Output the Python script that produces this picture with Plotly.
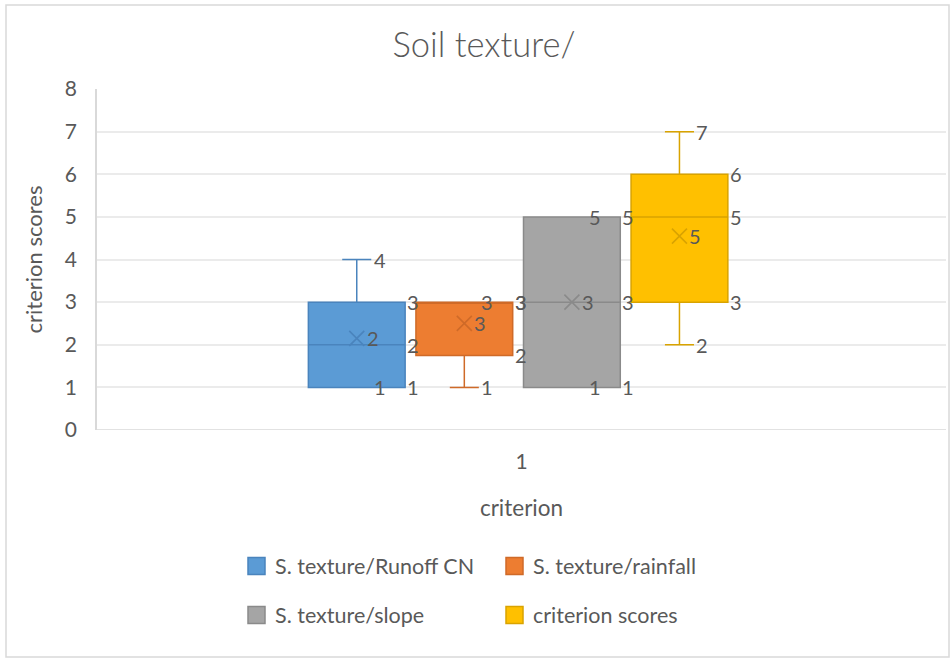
import plotly.graph_objects as go

# Box-and-whisker summary statistics for each series
series = ["S. texture/Runoff CN", "S. texture/rainfall", "S. texture/slope", "criterion scores"]
mins = [1, 1, 1, 2]
q1s = [1, 1.75, 1, 3]
medians = [2, 3, 3, 5]
q3s = [3, 3, 5, 6]
maxs = [4, 3, 5, 7]
means = [2.15, 2.5, 3, 4.55]

category = "1"
y_ticks = [0, 1, 2, 3, 4, 5, 6, 7, 8]

fills = ["#5B9BD5", "#ED7D31", "#A5A5A5", "#FFC000"]
edges = ["#4A84BD", "#CF6A28", "#8A8A8A", "#D9A300"]

TXT = "#595959"
FONT = "Lato"

W, H = 950, 660
L, R, T, B = 97, 4, 89, 230
PW, PH = W - L - R, H - T - B


def px(x):
    return (x - L) / PW


def py(y):
    return (H - B - y) / PH


def fmt(v):
    return str(int(v + 0.5))


# Grouped box layout inside the single category slot (x range 0.5..1.5)
group_center = 0.996
slot = 0.1267
box_w = 0.114
positions = [group_center + (i - 1.5) * slot for i in range(len(series))]

fig = go.Figure()
annotations = []

for i, name in enumerate(series):
    pos = positions[i]
    fig.add_trace(go.Box(
        x=[pos], q1=[q1s[i]], median=[medians[i]], q3=[q3s[i]],
        lowerfence=[mins[i]], upperfence=[maxs[i]],
        width=box_w, whiskerwidth=0.3,
        fillcolor=fills[i], line=dict(color=edges[i], width=1.5),
        boxpoints=False, name=name, showlegend=False, hoverinfo="skip",
    ))
    fig.add_trace(go.Scatter(
        x=[pos], y=[means[i]], mode="markers",
        marker=dict(symbol="x-thin", size=15, line=dict(color=edges[i], width=1.6)),
        showlegend=False, hoverinfo="skip",
    ))
    lab = dict(xref="x", yref="y", showarrow=False, xanchor="left", yanchor="middle",
               font=dict(family=FONT, size=20, color=TXT))
    # whisker-end labels
    for v in (maxs[i], mins[i]):
        annotations.append(dict(lab, x=pos, y=v, text=fmt(v), xshift=15))
    # box-edge labels (q3, median, q1)
    for v in (q3s[i], medians[i], q1s[i]):
        annotations.append(dict(lab, x=pos + box_w / 2, y=v, text=fmt(v), xshift=0))
    # mean label
    annotations.append(dict(lab, x=pos, y=means[i], text=fmt(means[i]), xshift=8))

# Legend drawn as two rows of swatches and labels
legend_cols = [248, 506]
legend_rows = [566, 615]
for i, name in enumerate(series):
    cx = legend_cols[i % 2]
    cy = legend_rows[i // 2]
    fig.add_shape(type="rect", xref="paper", yref="paper",
                  x0=px(cx), x1=px(cx + 17), y0=py(cy + 8.5), y1=py(cy - 8.5),
                  fillcolor=fills[i], line=dict(color=edges[i], width=1.5))
    annotations.append(dict(xref="paper", yref="paper", x=px(cx + 25), y=py(cy),
                            text=name, showarrow=False, xanchor="left", yanchor="middle",
                            font=dict(family=FONT, size=21.5, color=TXT)))

# Chart-area border
fig.add_shape(type="rect", xref="paper", yref="paper",
              x0=px(6), x1=px(949), y0=py(657), y1=py(5),
              line=dict(color="#D9D9D9", width=1.5), fillcolor="rgba(0,0,0,0)", layer="below")

fig.update_layout(
    width=W, height=H,
    margin=dict(l=L, r=R, t=T, b=B),
    paper_bgcolor="white", plot_bgcolor="white",
    title=dict(text="Soil texture/", xref="container", yref="container",
               x=484 / W, xanchor="center", y=1 - 45 / H, yanchor="middle",
               font=dict(family=FONT, size=34.5, color=TXT, weight=300)),
    annotations=annotations,
    showlegend=False,
    xaxis=dict(range=[0.5, 1.5], tickvals=[1], ticktext=[category], showgrid=False,
               zeroline=False, showline=False, ticks="", ticklabelstandoff=17,
               tickfont=dict(family=FONT, size=21, color=TXT),
               title=dict(text="criterion", font=dict(family=FONT, size=22.5, color=TXT), standoff=28)),
    yaxis=dict(range=[0, 8], tickvals=y_ticks, showgrid=True, gridcolor="#EBEBEB", gridwidth=1.5,
               zeroline=False, showline=True, linecolor="#D9D9D9", linewidth=1.5,
               ticks="", ticklabelstandoff=14,
               tickfont=dict(family=FONT, size=21, color=TXT),
               title=dict(text="criterion scores", font=dict(family=FONT, size=22, color=TXT), standoff=16)),
)

# x-axis baseline
fig.add_shape(type="line", xref="paper", yref="y", x0=0, x1=1, y0=0, y1=0,
              line=dict(color="#D9D9D9", width=1.5))

fig.write_html("out.html")
